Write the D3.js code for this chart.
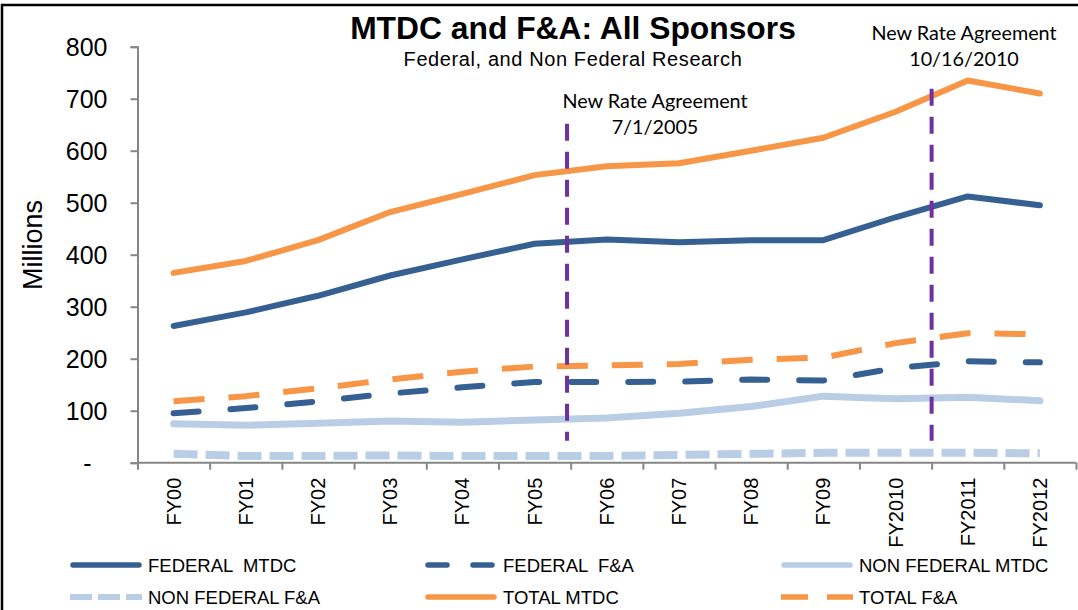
<!DOCTYPE html>
<html>
<head>
<meta charset="utf-8">
<script src="https://cdn.jsdelivr.net/npm/d3@7"></script>
<style>
  html, body { margin: 0; padding: 0; background: #fff; }
  svg { display: block; }
  text { white-space: pre; }
</style>
</head>
<body>
<svg id="chart" width="1078" height="610"></svg>
<script>
// ---------- DATA ----------
const categories = ["FY00","FY01","FY02","FY03","FY04","FY05","FY06","FY07","FY08","FY09","FY2010","FY2011","FY2012"];
const federalMTDC    = [263, 289, 321, 360, 391, 421, 429, 424, 428, 428, 472, 512, 495];
const federalFA      = [ 95, 105, 118, 133, 145, 155, 155, 156, 160, 158, 182, 195, 193];
const nonFederalMTDC = [ 75,  72,  76,  80,  78,  82,  86,  95, 108, 128, 123, 126, 119];
const nonFederalFA   = [ 17,  13,  13,  14,  13,  13,  13,  15,  17,  19,  19,  19,  18];
const totalMTDC      = [365, 388, 428, 482, 517, 553, 570, 576, 600, 625, 675, 735, 710];
const totalFA        = [118, 128, 143, 160, 175, 185, 187, 190, 198, 202, 230, 249, 247];
const yTicks = [0, 100, 200, 300, 400, 500, 600, 700, 800];
const seriesNames = ["FEDERAL  MTDC", "FEDERAL  F&A", "NON FEDERAL MTDC", "NON FEDERAL F&A", "TOTAL MTDC", "TOTAL F&A"];
// rate agreement markers: position in category-boundary units, top/bottom in data units
const rateLabels = [["New Rate Agreement", "7/1/2005"], ["New Rate Agreement", "10/16/2010"]];
const ratePositions = [5.95, 11.0];
const rateTops = [652, 719];
const rateBottom = 42;

// ---------- STYLE ----------
const DARK = "#376092", ORANGE = "#F79646", LIGHT = "#B9CDE5", PURPLE = "#7030A0", AXIS = "#868686";
const styles = [
  { color: DARK,   width: 6, dash: null,    cap: "round", legDash: null },
  { color: DARK,   width: 6, dash: "25,32", cap: "round", legDash: "19,26" },
  { color: LIGHT,  width: 7, dash: null,    cap: "round", legDash: null },
  { color: LIGHT,  width: 8, dash: "24,8",  cap: "butt",  legDash: "22,6" },
  { color: ORANGE, width: 6, dash: null,    cap: "round", legDash: null },
  { color: ORANGE, width: 6, dash: "31,24", cap: "butt",  legDash: "27,19" }
];
const seriesValues = [federalMTDC, federalFA, nonFederalMTDC, nonFederalFA, totalMTDC, totalFA];

const svg = d3.select("#chart");
const FONT = "'Liberation Sans', Arial, sans-serif";
const CAL = "Lato, 'Open Sans', sans-serif";

svg.append("rect").attr("x", 0).attr("y", 0).attr("width", 1078).attr("height", 610).attr("fill", "#fff");
svg.append("rect").attr("x", 2).attr("y", 5).attr("width", 1200).attr("height", 800)
  .attr("fill", "none").attr("stroke", "#000").attr("stroke-width", 2.5);

const pLeft = 137.5, pRight = 1076, pTop = 46.7, pBottom = 462.7;
const x = d3.scaleBand().domain(categories).range([pLeft, pRight]).padding(0);
const xIdx = d3.scaleLinear().domain([0, categories.length]).range([pLeft, pRight]);
const y = d3.scaleLinear().domain([0, 800]).range([pBottom, pTop]);
const cx = c => x(c) + x.bandwidth() / 2;

// Y axis
const yAxis = svg.append("g").attr("transform", `translate(${pLeft},0)`)
  .call(d3.axisLeft(y).tickValues(yTicks).tickSize(7).tickPadding(0)
    .tickFormat(d => d === 0 ? "-" : d3.format("d")(d)));
yAxis.select(".domain").attr("stroke", AXIS).attr("stroke-width", 2);
yAxis.selectAll(".tick line").attr("stroke", AXIS).attr("stroke-width", 2);
yAxis.selectAll(".tick text").attr("font-family", FONT).attr("font-size", 25).attr("fill", "#000")
  .attr("x", d => d === 0 ? -46 : -30).attr("dy", "0.36em");

// X axis
const xAxis = svg.append("g").attr("transform", `translate(0,${pBottom})`)
  .call(d3.axisBottom(xIdx).tickValues(d3.range(0, categories.length + 1)).tickSize(7).tickFormat(""));
xAxis.select(".domain").attr("stroke", AXIS).attr("stroke-width", 2).attr("d", `M${pLeft},0H${pRight}`);
xAxis.selectAll(".tick line").attr("stroke", AXIS).attr("stroke-width", 2);

svg.append("g").selectAll("text").data(categories).join("text")
  .attr("transform", d => `translate(${cx(d) + 7},${pBottom + 15}) rotate(-90)`)
  .attr("text-anchor", "end")
  .attr("font-family", FONT).attr("font-size", 20).attr("fill", "#000")
  .text(d => d);

// Y label
svg.append("text").attr("transform", `translate(42,245) rotate(-90)`)
  .attr("text-anchor", "middle").attr("font-family", FONT).attr("font-size", 27).text("Millions");

// Title
svg.append("text").attr("x", 573).attr("y", 39).attr("text-anchor", "middle")
  .attr("font-family", FONT).attr("font-weight", "bold").attr("font-size", 31.8).text("MTDC and F&A: All Sponsors");
svg.append("text").attr("x", 573).attr("y", 66).attr("text-anchor", "middle")
  .attr("font-family", FONT).attr("font-size", 20).attr("letter-spacing", 0.6)
  .text("Federal, and Non Federal Research");

// Lines
const line = d3.line().x((d, i) => cx(categories[i])).y(d => y(d)).curve(d3.curveLinear);
seriesValues.forEach((vals, k) => {
  const s = styles[k];
  svg.append("path").datum(vals).attr("d", line)
    .attr("fill", "none").attr("stroke", s.color).attr("stroke-width", s.width)
    .attr("stroke-linecap", s.cap).attr("stroke-linejoin", "round")
    .attr("stroke-dasharray", s.dash);
});

// Rate agreement lines
ratePositions.forEach((p, i) => {
  svg.append("line").attr("x1", xIdx(p)).attr("x2", xIdx(p))
    .attr("y1", y(rateTops[i])).attr("y2", y(rateBottom))
    .attr("stroke", PURPLE).attr("stroke-width", 4).attr("stroke-dasharray", "17,11");
});
const annX = [655, 964], annY = [108, 40];
rateLabels.forEach((lines, i) => {
  lines.forEach((t, j) => {
    svg.append("text").attr("x", annX[i]).attr("y", annY[i] + j * 26).attr("text-anchor", "middle")
      .attr("font-family", CAL).attr("font-size", 19.8).attr("fill", "#000").text(t);
  });
});

// Legend
const legCols = [70, 425, 781], legRows = [565, 597], legLen = 72;
seriesNames.forEach((name, k) => {
  const col = k % 3, row = Math.floor(k / 3);
  const s = styles[k];
  const lx = legCols[col], ly = legRows[row];
  const capPad = s.cap === "round" ? 3 : 0;
  svg.append("line").attr("x1", lx + capPad).attr("x2", lx + legLen - capPad).attr("y1", ly).attr("y2", ly)
    .attr("stroke", s.color).attr("stroke-width", s.width === 8 ? 6 : 5.5)
    .attr("stroke-linecap", s.cap).attr("stroke-dasharray", s.legDash);
  svg.append("text").attr("x", lx + legLen + 6).attr("y", ly + 7)
    .attr("font-family", FONT).attr("font-size", 18.5).attr("fill", "#000").text(name);
});
</script>
</body>
</html>
